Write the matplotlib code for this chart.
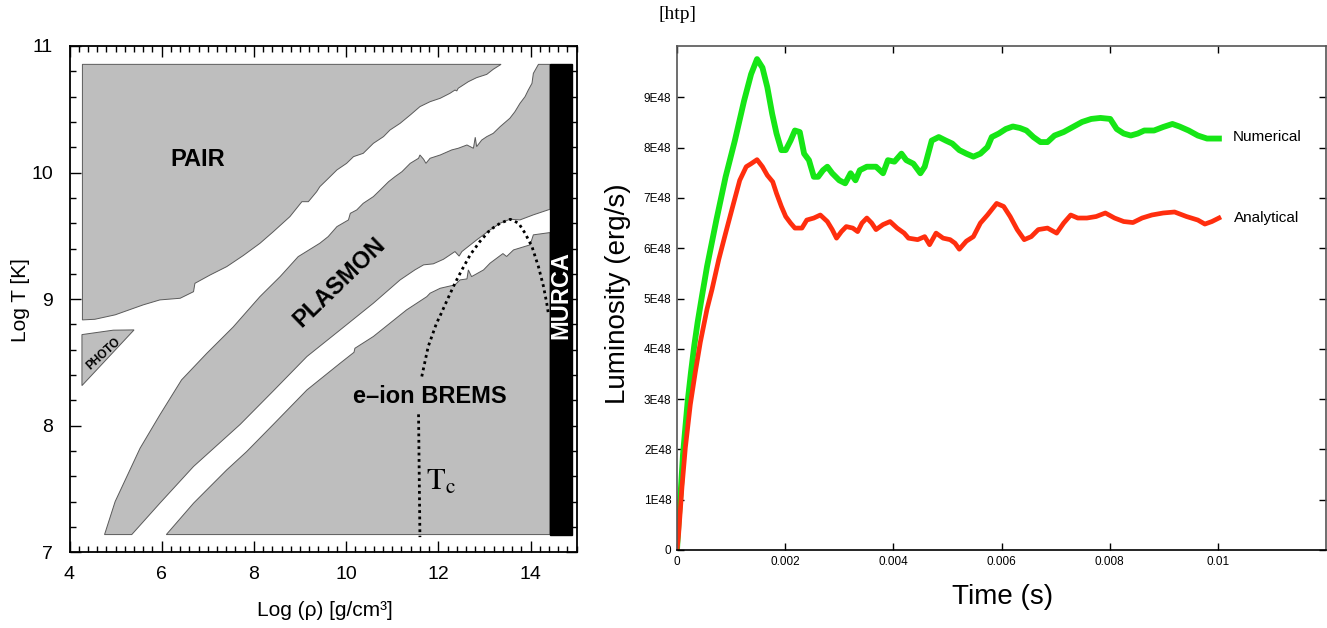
import matplotlib
matplotlib.use("Agg")
import matplotlib.pyplot as plt
from matplotlib.ticker import MultipleLocator, FixedLocator
import numpy as np

plt.rcParams['font.family'] = ['Liberation Sans', 'DejaVu Sans']
plt.rcParams['mathtext.fontset'] = 'stix'

# ---- neutrino emission regions, log rho vs log T ----
pair_x = [4.28, 13.36, 13.19, 13.05, 12.83, 12.65, 12.43, 12.40, 12.36, 12.25, 12.04, 11.82,
          11.60, 11.39, 11.17, 10.95, 10.81, 10.59, 10.37, 10.16, 10.01, 9.80, 9.58, 9.43,
          9.36, 9.18, 9.04, 8.78, 8.42, 8.13, 7.77, 7.41, 7.05, 6.72, 6.69, 6.40, 5.96,
          5.60, 4.99, 4.55, 4.28]
pair_y = [10.855, 10.855, 10.816, 10.776, 10.750, 10.718, 10.666, 10.645, 10.652, 10.626,
          10.587, 10.560, 10.521, 10.455, 10.389, 10.336, 10.284, 10.231, 10.152, 10.126,
          10.073, 10.021, 9.942, 9.889, 9.849, 9.770, 9.770, 9.652, 9.533, 9.441, 9.345,
          9.257, 9.191, 9.125, 9.059, 9.007, 8.994, 8.955, 8.876, 8.841, 8.836]

photo_x = [4.27, 4.95, 5.40, 4.27]
photo_y = [8.720, 8.755, 8.757, 8.317]

plasmon_x = [4.76, 4.99, 5.53, 5.96, 6.43, 6.98, 7.55, 8.13, 8.57, 8.96, 9.43, 9.61, 9.80,
             10.05, 10.09, 10.23, 10.37, 10.59, 10.74, 10.92, 11.06, 11.21, 11.39, 11.57,
             11.60, 11.68, 11.73, 11.82, 12.04, 12.29, 12.43, 12.62, 12.76, 12.80, 12.83,
             12.94, 13.05, 13.19, 13.34, 13.55, 13.66, 13.77, 13.88, 13.95, 14.03, 14.06,
             14.17, 14.42,
             14.42, 14.06, 13.77, 13.55, 13.34, 13.12, 12.83, 12.51, 12.45, 12.36, 12.11,
             11.89, 11.68, 11.49, 11.17, 10.59, 9.87, 9.15, 8.42, 7.70, 6.69, 5.96, 5.35]
plasmon_y = [7.140, 7.401, 7.822, 8.086, 8.362, 8.573, 8.780, 9.020, 9.179, 9.336, 9.442,
             9.494, 9.573, 9.626, 9.678, 9.705, 9.757, 9.810, 9.863, 9.928, 9.968, 10.007,
             10.073, 10.113, 10.139, 10.105, 10.073, 10.113, 10.139, 10.179, 10.192, 10.218,
             10.192, 10.279, 10.205, 10.257, 10.284, 10.310, 10.363, 10.429, 10.481, 10.547,
             10.600, 10.652, 10.705, 10.784, 10.855, 10.855,
             9.710, 9.666, 9.626, 9.631, 9.600, 9.547, 9.468, 9.376, 9.340, 9.376, 9.315,
             9.279, 9.271, 9.231, 9.152, 8.968, 8.757, 8.547, 8.275, 8.010, 7.678, 7.388,
             7.140]

brems_x = [6.10, 14.42, 14.42, 14.06, 13.99, 13.63, 13.48, 13.40, 13.12, 12.98, 12.72, 12.65,
           12.62, 12.47, 12.36, 12.04, 11.82, 11.75, 11.31, 10.59, 10.19, 10.17, 9.87, 9.15,
           8.42, 7.84, 7.41, 6.69, 6.10]
brems_y = [7.140, 7.140, 9.526, 9.508, 9.429, 9.389, 9.337, 9.360, 9.284, 9.231, 9.178, 9.231,
           9.160, 9.152, 9.113, 9.086, 9.047, 9.020, 8.915, 8.705, 8.612, 8.580, 8.494, 8.283,
           8.010, 7.795, 7.651, 7.388, 7.140]

murca_x = [14.42, 14.89]
murca_y = [7.14, 10.855]

# dotted dome and the T_c line
dome_x = [11.64, 11.78, 11.96, 12.04, 12.20, 12.36, 12.51, 12.69, 12.90, 13.12, 13.34, 13.56,
          13.74, 13.88, 14.03, 14.17, 14.28, 14.35, 14.39]
dome_y = [8.389, 8.626, 8.810, 8.870, 9.000, 9.126, 9.231, 9.350, 9.455, 9.547, 9.600, 9.631,
          9.600, 9.521, 9.415, 9.257, 9.100, 8.968, 8.876]
tc_x = [11.57, 11.585, 11.60]
tc_y = [8.09, 7.60, 7.12]

# ---- luminosity vs time (time in ms, luminosity in 1E48 erg/s) ----
num_t = [0, 0.031, 0.074, 0.111, 0.154, 0.197, 0.259, 0.320, 0.382, 0.462, 0.556, 0.728,
         0.899, 1.07, 1.24, 1.37,
         1.48, 1.58, 1.67, 1.76, 1.84, 1.93, 2.01, 2.10, 2.18, 2.27, 2.35, 2.44, 2.53, 2.61,
         2.70, 2.78, 2.87, 3.00, 3.11, 3.21, 3.30, 3.38, 3.51, 3.68, 3.81, 3.90, 4.02, 4.15,
         4.24, 4.37, 4.50, 4.58, 4.71, 4.84, 4.97, 5.09, 5.22, 5.35, 5.48, 5.61, 5.74, 5.82,
         5.95, 6.08, 6.21, 6.34, 6.46, 6.59, 6.72, 6.85, 6.98, 7.15, 7.32, 7.49, 7.66, 7.83,
         8.01, 8.13, 8.26, 8.39, 8.52, 8.64, 8.82, 8.99, 9.16, 9.29, 9.46, 9.63, 9.80, 10.02]
num_L = [0, 0.59, 1.25, 1.90, 2.43, 2.95, 3.54, 4.07, 4.53, 5.05, 5.64, 6.56, 7.42, 8.14,
         8.93, 9.46, 9.76,
         9.59, 9.20, 8.67, 8.28, 7.95, 7.95, 8.14, 8.34, 8.31, 7.88, 7.75, 7.42, 7.42, 7.55,
         7.62, 7.49, 7.35, 7.29, 7.49, 7.35, 7.55, 7.62, 7.62, 7.49, 7.75, 7.72, 7.88, 7.75,
         7.68, 7.49, 7.62, 8.14, 8.21, 8.14, 8.08, 7.95, 7.88, 7.82, 7.88, 8.01, 8.21, 8.28,
         8.37, 8.42, 8.39, 8.34, 8.21, 8.11, 8.11, 8.24, 8.31, 8.41, 8.51, 8.57, 8.59, 8.57,
         8.37, 8.28, 8.24, 8.28, 8.34, 8.34, 8.41, 8.47, 8.42, 8.34, 8.24, 8.18, 8.18]

ana_t = [0, 0.031, 0.092, 0.154, 0.246, 0.339, 0.431, 0.555, 0.647, 0.771, 0.899, 1.03,
         1.16, 1.28, 1.37, 1.48, 1.58, 1.67, 1.77, 1.84, 1.93, 2.01, 2.10, 2.18, 2.31, 2.40,
         2.53, 2.65, 2.78, 2.87, 2.95, 3.04, 3.13, 3.25, 3.34, 3.42, 3.51, 3.60, 3.68, 3.81,
         3.94, 4.07, 4.20, 4.28, 4.45, 4.58, 4.67, 4.79, 4.92, 5.05, 5.14, 5.22, 5.35, 5.48,
         5.61, 5.74, 5.91, 6.04, 6.16, 6.29, 6.42, 6.55, 6.68, 6.85, 7.02, 7.15, 7.28, 7.41,
         7.58, 7.75, 7.92, 8.09, 8.26, 8.43, 8.60, 8.78, 8.99, 9.20, 9.42, 9.63, 9.76, 9.89,
         10.02]
ana_L = [0, 0.33, 1.25, 2.03, 2.89, 3.54, 4.13, 4.79, 5.18, 5.77, 6.30, 6.83, 7.35, 7.62,
         7.68, 7.76, 7.62, 7.45, 7.32, 7.09, 6.83, 6.63, 6.50, 6.40, 6.40, 6.56, 6.60, 6.66,
         6.53, 6.37, 6.20, 6.33, 6.43, 6.40, 6.33, 6.50, 6.60, 6.50, 6.37, 6.47, 6.53, 6.40,
         6.30, 6.20, 6.17, 6.23, 6.07, 6.30, 6.20, 6.17, 6.10, 5.98, 6.14, 6.23, 6.50, 6.66,
         6.89, 6.83, 6.63, 6.37, 6.17, 6.23, 6.37, 6.40, 6.30, 6.50, 6.66, 6.60, 6.60, 6.63,
         6.70, 6.60, 6.53, 6.51, 6.60, 6.66, 6.70, 6.72, 6.63, 6.56, 6.48, 6.53, 6.60]

lum_ticks = list(range(10))
time_ticks = [0, 0.002, 0.004, 0.006, 0.008, 0.01]
time_labels = ['0', '0.002', '0.004', '0.006', '0.008', '0.01']

W, H = 1327, 628
fig = plt.figure(figsize=(W / 100, H / 100), dpi=100)

# left panel
ax = fig.add_axes([69.5 / W, 1 - 552.3 / H, 507.2 / W, 506.3 / H])
grey = '#bebebe'
edge = '#5a5a5a'
for px, py in [(pair_x, pair_y), (photo_x, photo_y), (plasmon_x, plasmon_y), (brems_x, brems_y)]:
    ax.fill(px, py, facecolor=grey, edgecolor=edge, linewidth=0.7)
ax.fill([murca_x[0], murca_x[1], murca_x[1], murca_x[0]],
        [murca_y[0], murca_y[0], murca_y[1], murca_y[1]], facecolor='black', edgecolor='black')

ax.plot(dome_x, dome_y, color='black', lw=2.0, linestyle=(0, (1.0, 1.3)))
ax.plot(tc_x, tc_y, color='black', lw=2.0, linestyle=(0, (1.0, 1.3)))

ax.text(6.79, 10.10, 'PAIR', fontsize=17, fontweight='bold', ha='center', va='center')
ax.text(9.85, 9.13, 'PLASMON', fontsize=17, fontweight='bold', ha='center', va='center',
        rotation=44)
ax.text(4.73, 8.57, 'PHOTO', fontsize=8.5, fontweight='bold', ha='center', va='center',
        rotation=42)
ax.text(11.82, 8.23, 'e\u2013ion BREMS', fontsize=17, fontweight='bold', ha='center',
        va='center')
ax.text(14.655, 9.03, 'MURCA', fontsize=17, fontweight='bold', color='white', ha='center',
        va='center', rotation=90)
ax.text(11.73, 7.49, r'$\mathrm{T}_\mathrm{c}$', fontsize=22, ha='left', va='baseline')

ax.set_xlim(4, 15)
ax.set_ylim(7, 11)
ax.xaxis.set_major_locator(MultipleLocator(2))
ax.xaxis.set_minor_locator(MultipleLocator(0.2))
ax.yaxis.set_major_locator(MultipleLocator(1))
ax.yaxis.set_minor_locator(MultipleLocator(0.2))
ax.tick_params(which='both', direction='in', top=True, right=True, width=1.0)
ax.tick_params(which='major', length=8, labelsize=14)
ax.tick_params(which='minor', length=4)
ax.tick_params(axis='y', pad=12)
ax.tick_params(axis='x', pad=10)
for s in ax.spines.values():
    s.set_linewidth(1.3)

fig.text(20 / W, 1 - 300 / H, 'Log T [K]', fontsize=15, rotation=90, ha='center', va='center')
fig.text(325 / W, 1 - 616 / H, 'Log (\u03c1) [g/cm\u00b3]', fontsize=15, ha='center',
         va='baseline')

# right panel
ax2 = fig.add_axes([677 / W, 1 - 550 / H, 649 / W, 504 / H])
t_num = np.array(num_t) * 1e-3
t_ana = np.array(ana_t) * 1e-3
ax2.plot(t_num, num_L, color='#16e616', lw=4.2, solid_joinstyle='round')
ax2.plot(t_ana, ana_L, color='#ff2e0e', lw=3.4, solid_joinstyle='round')
ax2.text(0.01028, 8.21, 'Numerical', fontsize=11, ha='left', va='center')
ax2.text(0.01030, 6.60, 'Analytical', fontsize=11, ha='left', va='center')

ax2.set_xlim(0, 0.012)
ax2.set_ylim(0, 10.02)
ax2.xaxis.set_major_locator(FixedLocator(time_ticks))
ax2.set_xticklabels(time_labels)
ax2.yaxis.set_major_locator(FixedLocator(lum_ticks))
ax2.set_yticklabels(['0'] + ['%dE48' % v for v in lum_ticks[1:]])
ax2.tick_params(direction='in', top=True, right=True, length=5, width=1.0, labelsize=8.5,
                pad=4)
for s in ax2.spines.values():
    s.set_linewidth(1.2)
for side in ['left', 'top', 'right']:
    ax2.spines[side].set_color('#555555')

fig.text(618 / W, 1 - 294 / H, 'Luminosity (erg/s)', fontsize=20, rotation=90, ha='center',
         va='center')
fig.text(1003 / W, 1 - 597 / H, 'Time (s)', fontsize=20, ha='center', va='center')
fig.text(659 / W, 1 - 19 / H, '[htp]', fontsize=14, family='Liberation Serif', va='baseline')

fig.savefig('out.png', dpi=100)
